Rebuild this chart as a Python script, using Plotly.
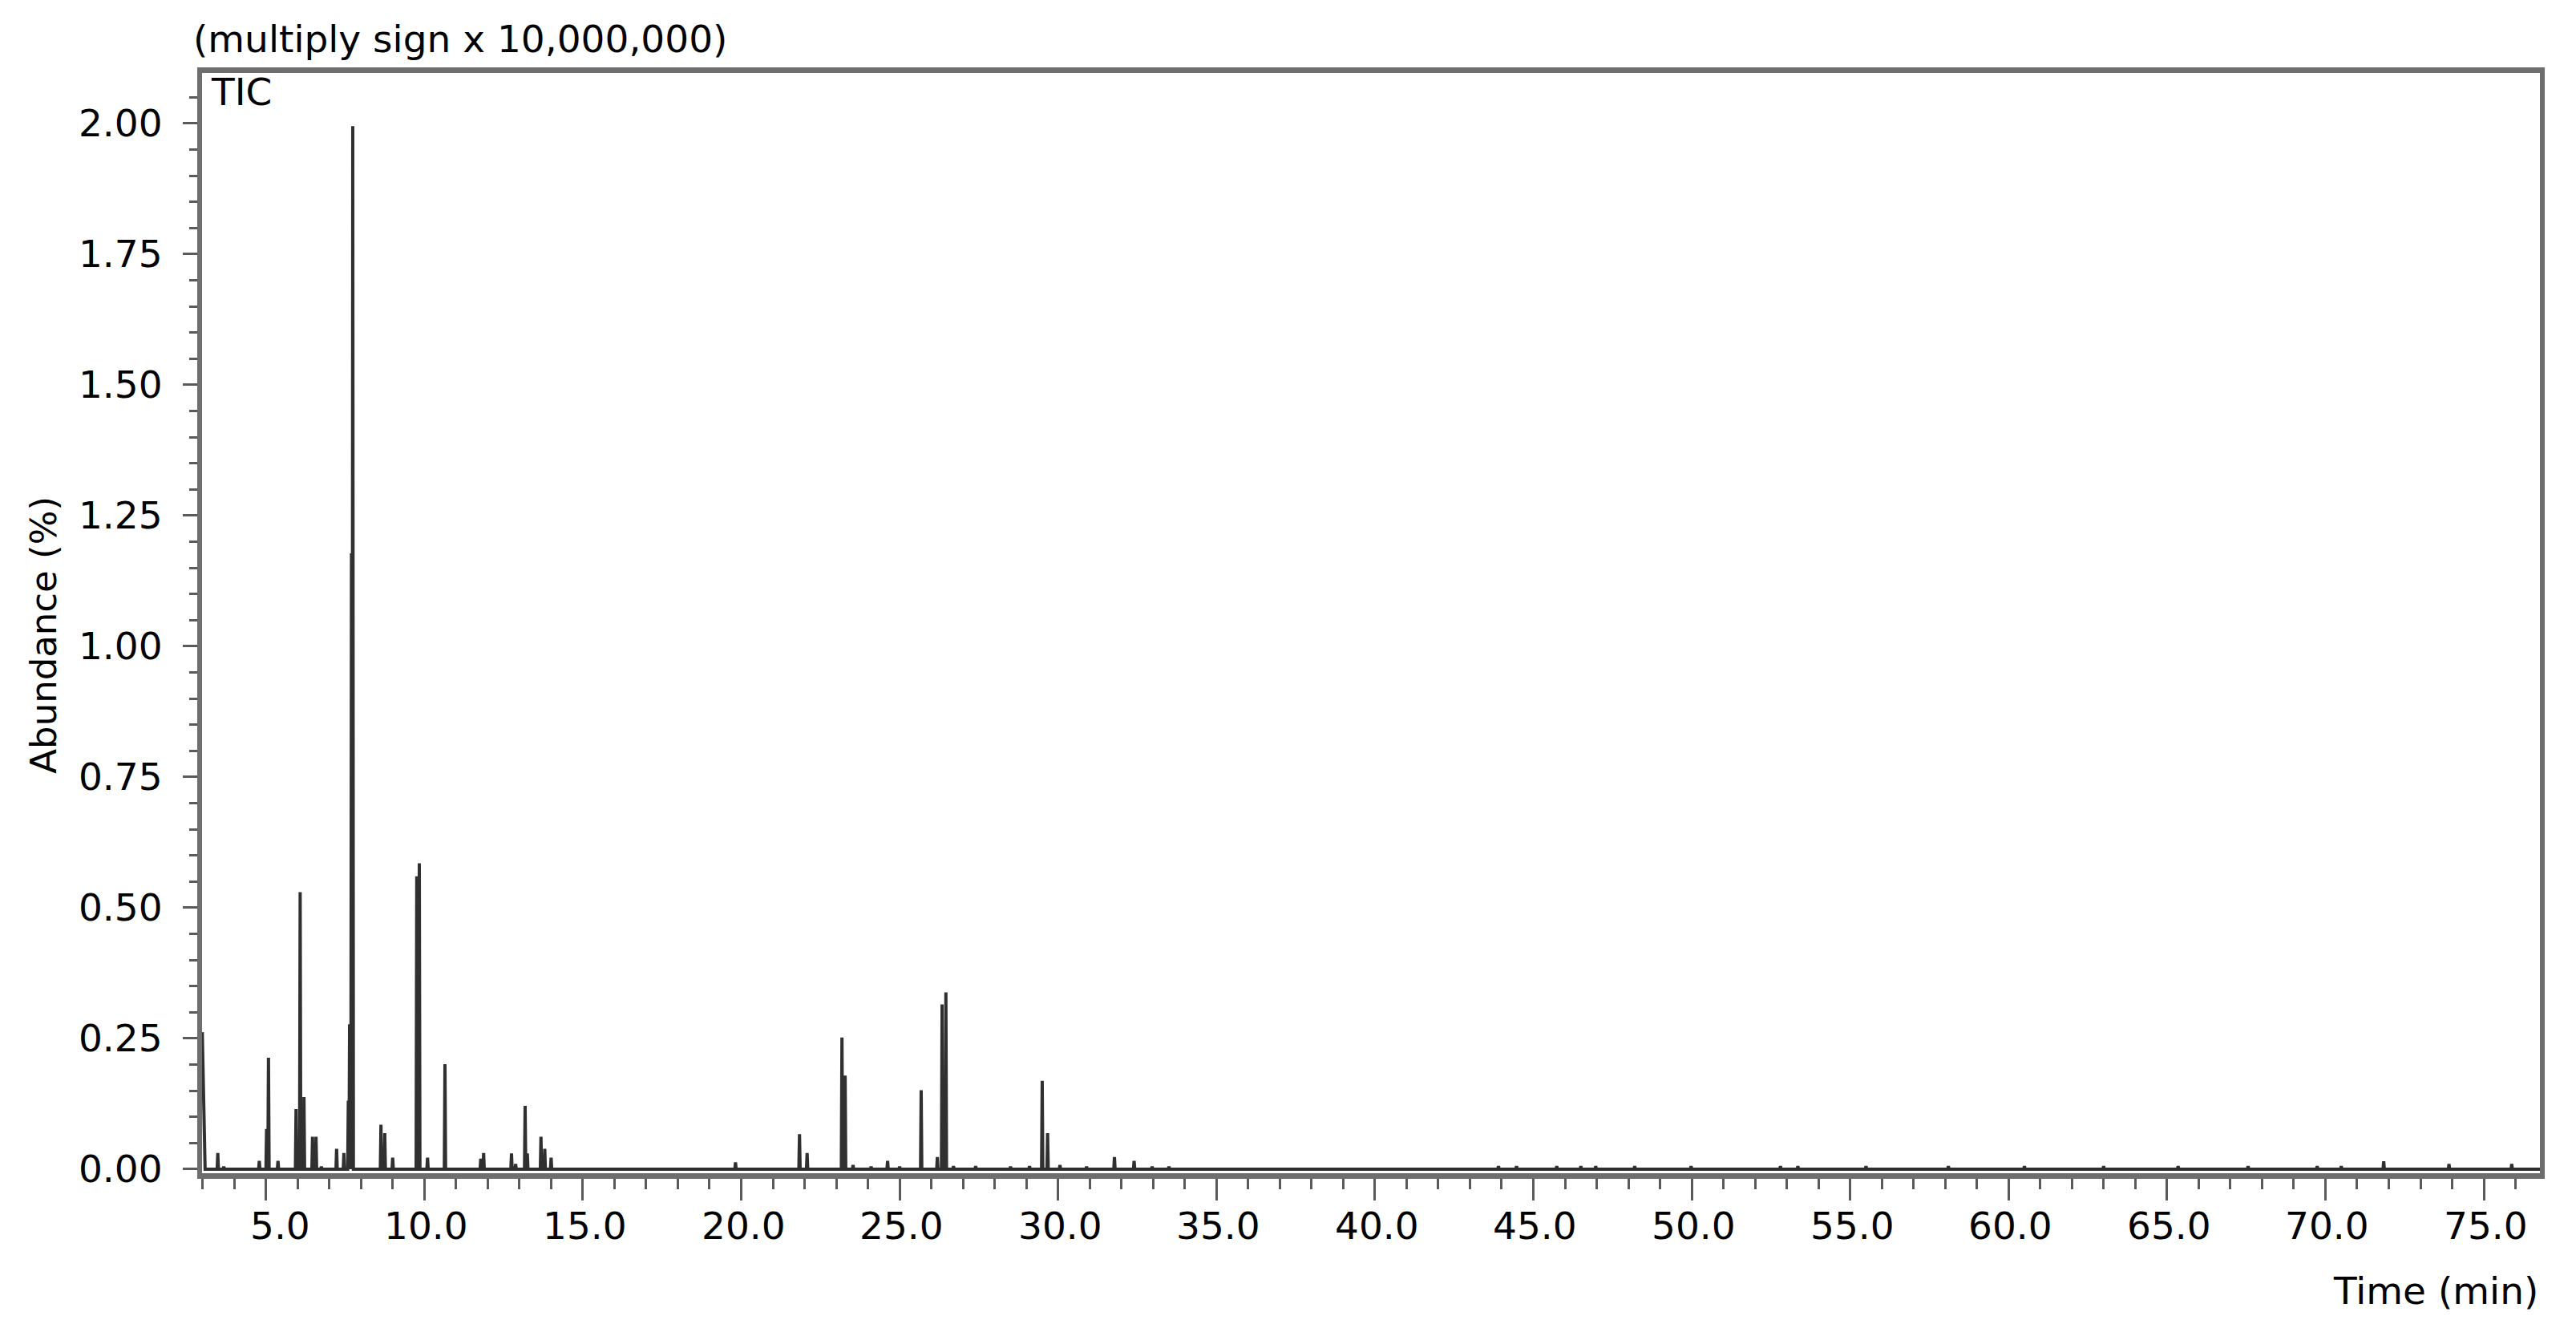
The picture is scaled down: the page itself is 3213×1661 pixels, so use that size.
import plotly.graph_objects as go

# ---- data ----
start_time = 2.99
start_abundance = 0.262
baseline = 0.0
end_time = 76.77

peak_times = [3.48, 3.67, 4.79, 5.02, 5.08, 5.38, 5.95, 6.08, 6.20,
              6.47, 6.58, 6.75, 7.23, 7.46, 7.60, 7.64, 7.70, 7.74,
              8.63, 8.75, 9.00, 9.76, 9.84, 10.10, 10.65,
              11.78, 11.87, 12.75, 12.88, 13.18, 13.25, 13.68, 13.80, 14.00,
              19.82, 21.84, 22.08, 23.18, 23.28, 23.53, 24.10, 24.62, 25.00,
              25.68, 26.19, 26.34, 26.46, 26.70, 27.40, 28.50, 29.10,
              29.50, 29.67, 30.06, 30.90, 31.78, 32.40, 32.97, 33.50,
              43.90, 44.47, 45.74, 46.50, 46.97, 48.20, 49.98, 52.80, 53.35,
              55.50, 58.10, 60.50, 63.00, 65.35, 67.56, 69.74, 70.50, 71.84,
              73.90, 75.88]
peak_heights = [0.031, 0.005, 0.016, 0.077, 0.213, 0.016, 0.115, 0.530, 0.138,
                0.062, 0.062, 0.005, 0.039, 0.031, 0.131, 0.277, 1.178, 1.995,
                0.085, 0.069, 0.022, 0.560, 0.585, 0.022, 0.201,
                0.020, 0.031, 0.030, 0.010, 0.121, 0.030, 0.062, 0.039, 0.022,
                0.013, 0.067, 0.031, 0.252, 0.179, 0.008, 0.005, 0.016, 0.005,
                0.151, 0.023, 0.315, 0.338, 0.006, 0.006, 0.005, 0.006,
                0.169, 0.069, 0.008, 0.005, 0.023, 0.016, 0.005, 0.005,
                0.006, 0.006, 0.006, 0.006, 0.006, 0.006, 0.006, 0.006, 0.006,
                0.006, 0.006, 0.006, 0.006, 0.006, 0.006, 0.006, 0.006, 0.015,
                0.010, 0.010]

x_ticks = [5, 10, 15, 20, 25, 30, 35, 40, 45, 50, 55, 60, 65, 70, 75]
x_tick_labels = ["5.0", "10.0", "15.0", "20.0", "25.0", "30.0", "35.0", "40.0",
                 "45.0", "50.0", "55.0", "60.0", "65.0", "70.0", "75.0"]
y_ticks = [0.0, 0.25, 0.5, 0.75, 1.0, 1.25, 1.5, 1.75, 2.0]
y_tick_labels = ["0.00", "0.25", "0.50", "0.75", "1.00", "1.25", "1.50", "1.75", "2.00"]

# ---- build the trace as a stick-like chromatogram ----
half = 0.02
xs = [start_time, start_time + 0.09]
ys = [start_abundance, baseline]
for t, h in zip(peak_times, peak_heights):
    xs += [t - half, t, t + half]
    ys += [baseline, h, baseline]
xs.append(end_time)
ys.append(baseline)

FONT = "DejaVu Sans, Verdana, sans-serif"
AX = "#6e6e6e"
TK = "#5a5a5a"
FS = 47

fig = go.Figure()
fig.add_trace(go.Scatter(x=xs, y=ys, mode="lines",
                         line=dict(color="#303030", width=4),
                         hoverinfo="skip", showlegend=False))

fig.update_layout(
    width=3213, height=1661,
    margin=dict(l=252, r=45, t=91, b=198, autoexpand=False),
    paper_bgcolor="white", plot_bgcolor="white",
    font=dict(family=FONT, size=FS, color="black"),
    showlegend=False,
)
fig.update_xaxes(
    range=[2.983, 76.77], showgrid=False, zeroline=False, automargin=False,
    showline=True, linecolor=AX, linewidth=7, mirror=True,
    tickmode="array", tickvals=x_ticks, showticklabels=False,
    ticks="outside", ticklen=27, tickwidth=3, tickcolor=TK,
    minor=dict(dtick=1, tick0=0, ticks="outside", ticklen=13, tickwidth=3, tickcolor=TK),
)
fig.update_yaxes(
    range=[-0.0077, 2.0966], showgrid=False, zeroline=False, automargin=False,
    showline=True, linecolor=AX, linewidth=6, mirror=True,
    tickmode="array", tickvals=y_ticks, ticktext=y_tick_labels,
    ticks="outside", ticklen=18, tickwidth=3, tickcolor=TK,
    ticklabelstandoff=16,
    minor=dict(dtick=0.05, tick0=0, ticks="outside", ticklen=10, tickwidth=3, tickcolor=TK),
    tickfont=dict(family=FONT, size=FS, color="black"),
)

# x tick labels: right-aligned just past each tick, as in the reference
for v, lab in zip(x_ticks, x_tick_labels):
    fig.add_annotation(text=lab, xref="x", yref="paper", x=v, y=-0.0481,
                       xanchor="right", yanchor="middle", xshift=57,
                       showarrow=False, font=dict(family=FONT, size=FS, color="black"))

fig.add_annotation(text="(multiply sign x 10,000,000)", xref="paper", yref="paper",
                   x=-0.0045, y=1.031, xanchor="left", yanchor="middle",
                   showarrow=False, font=dict(family=FONT, size=FS, color="black"))
fig.add_annotation(text="TIC", xref="paper", yref="paper",
                   x=0.0031, y=0.9832, xanchor="left", yanchor="middle",
                   showarrow=False, font=dict(family=FONT, size=FS, color="black"))
fig.add_annotation(text="Time (min)", xref="paper", yref="paper",
                   x=1.0, y=-0.1071, xanchor="right", yanchor="middle",
                   showarrow=False, font=dict(family=FONT, size=FS, color="black"))
fig.add_annotation(text="Abundance (%)", xref="paper", yref="paper",
                   x=-0.0677, y=0.489, xanchor="center", yanchor="middle",
                   textangle=-90, showarrow=False,
                   font=dict(family=FONT, size=45, color="black"))

fig.write_html("out.html", config={"displayModeBar": False},
               post_script="document.body.style.margin='0px';")
